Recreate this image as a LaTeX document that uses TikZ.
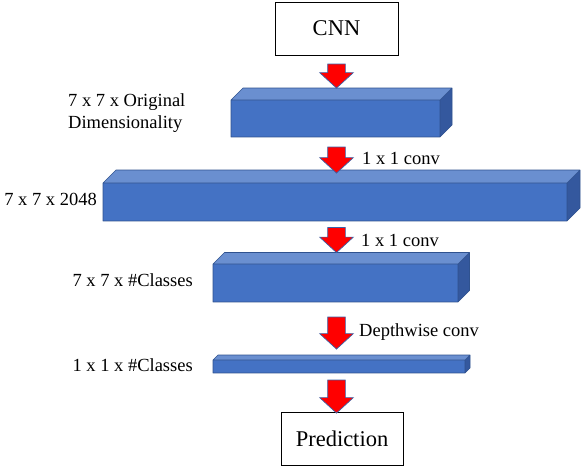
\documentclass[tikz,border=0pt]{standalone}
\usepackage{fontspec}
\setmainfont{Liberation Serif}
\usepackage{xcolor}
\usepackage{tikz}
\usetikzlibrary{shapes.arrows, positioning, calc}
\definecolor{MapFront}{RGB}{68, 114, 196}
\definecolor{MapTop}{RGB}{106, 143, 208}
\definecolor{MapSide}{RGB}{52, 88, 158}
\definecolor{MapEdge}{RGB}{47, 82, 143}
\definecolor{FlowRed}{RGB}{255, 0, 0}

% feature map block: name, x1, y1, x2, y2, depth
\newcommand{\featuremap}[6]{%
  \fill[MapFront] (#2,#3) rectangle (#4,#5);
  \fill[MapTop] (#2,#3) -- ++(#6,-#6) -- ($(#4,#3)+(#6,-#6)$) -- (#4,#3) -- cycle;
  \fill[MapSide] (#4,#3) -- ++(#6,-#6) -- ($(#4,#5)+(#6,-#6)$) -- (#4,#5) -- cycle;
  \draw[MapEdge, line width=0.6pt, line join=round]
    (#2,#3) rectangle (#4,#5)
    (#2,#3) -- ++(#6,-#6) -- ($(#4,#3)+(#6,-#6)$) -- ($(#4,#5)+(#6,-#6)$) -- (#4,#5)
    (#4,#3) -- ++(#6,-#6);
  \coordinate (#1) at ($(#2,#3)!0.5!(#4,#5)$);
}

\tikzset{
  endbox/.style={draw=black, line width=0.8pt, fill=white, minimum width=123pt,
    minimum height=53pt, font=\fontsize{22.5}{26}\selectfont},
  maplabel/.style={inner sep=0pt, font=\fontsize{18.5}{22}\selectfont},
  downarrow/.style={single arrow, rotate=-90, fill=FlowRed, draw=MapFront!85!black,
    line width=0.7pt, inner sep=0pt, inner ysep=8.5pt, single arrow head extend=8pt,
    single arrow tip angle=95, minimum width=33pt},
}

\begin{document}
\begin{tikzpicture}[x=1pt,y=-1pt]
  \path[use as bounding box] (0,0) rectangle (582,466);

  % input and output
  \node[endbox] (cnn) at (336.5,28.5) {CNN};
  \node[endbox, minimum width=122pt] (pred) at (342,438.5) {Prediction};

  % feature maps
  \featuremap{orig}{231}{100}{440}{137}{12}
  \featuremap{wide}{103}{183}{567}{221}{13}
  \featuremap{cls}{213}{264}{458}{302}{11.5}
  \featuremap{pool}{213}{360}{465}{373}{5}

  % labels
  \node[maplabel, anchor=west, align=left] (lorig) at (68,113) {7 x 7 x Original\\Dimensionality};
  \node[maplabel, anchor=east] (lwide) at (97,199) {7 x 7 x 2048};
  \node[maplabel, anchor=east] (lcls) at (193,280) {7 x 7 x \#Classes};
  \node[maplabel, anchor=east] (lpool) at (193,365) {1 x 1 x \#Classes};

  % flow arrows
  \node[downarrow, minimum height=24pt] (a1) at (336.5,72) {};
  \node[downarrow, minimum height=26pt] (a2) at (336.5,156) {};
  \node[downarrow, minimum height=25pt] (a3) at (336.5,236) {};
  \node[downarrow, minimum height=32pt] (a4) at (336.5,329) {};
  \node[downarrow, minimum height=33pt] (a5) at (336.5,392.5) {};

  % operations
  \node[maplabel, anchor=west] (op1) at (362,158) {1 x 1 conv};
  \node[maplabel, anchor=west] (op2) at (361,240) {1 x 1 conv};
  \node[maplabel, anchor=west] (op3) at (359,332) {Depthwise conv};
\end{tikzpicture}
\end{document}
